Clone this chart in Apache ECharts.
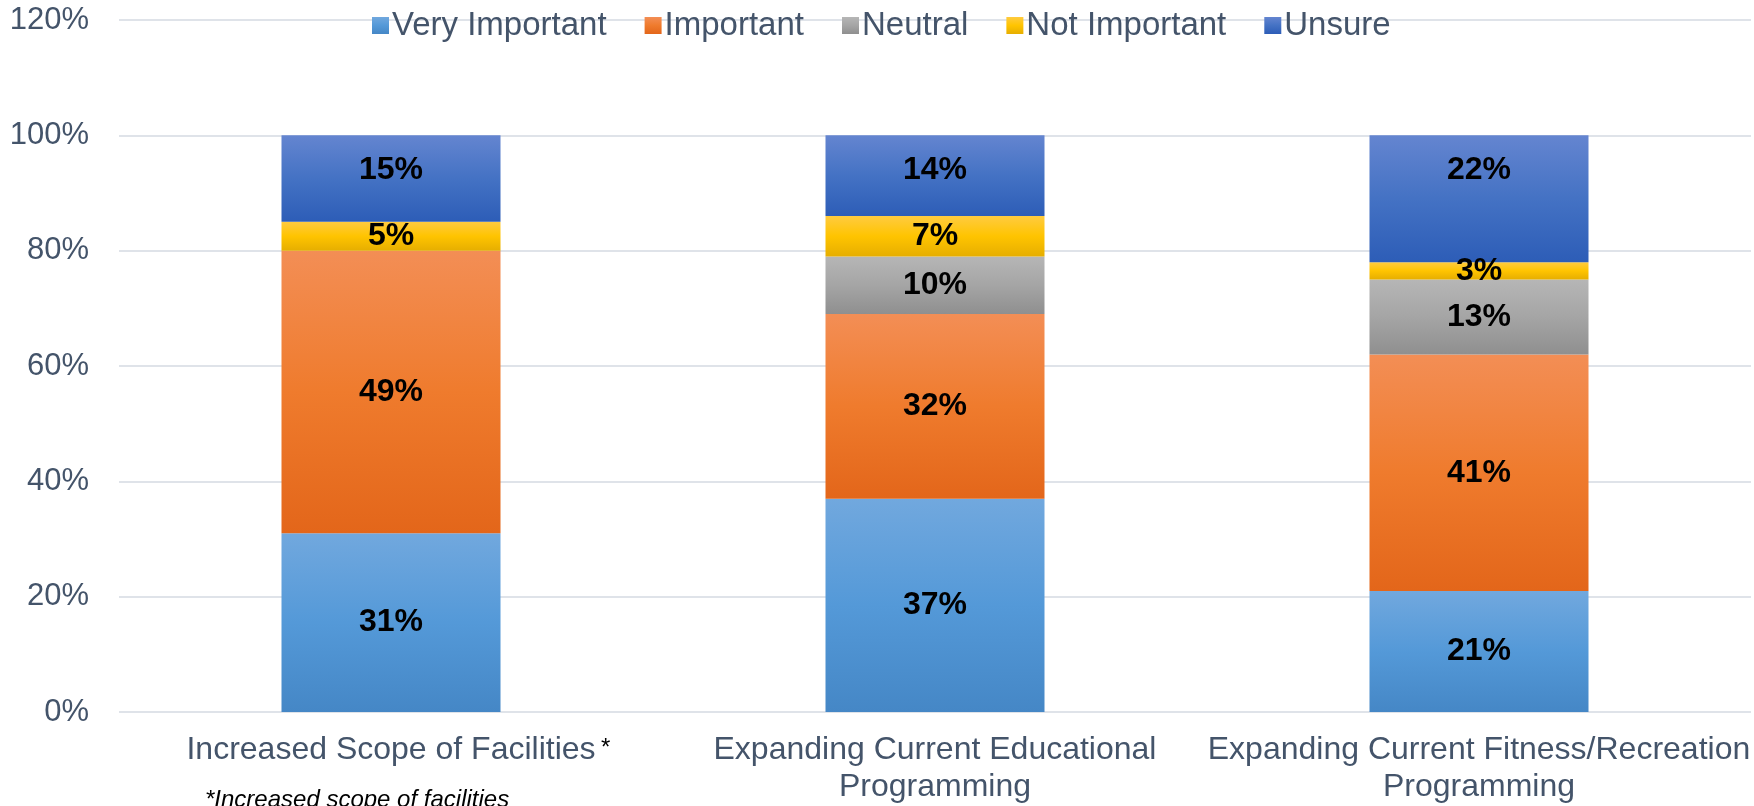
<!DOCTYPE html>
<html>
<head>
<meta charset="utf-8">
<script src="https://cdn.jsdelivr.net/npm/echarts@6/dist/echarts.min.js"></script>
<style>
  html, body { margin: 0; padding: 0; background: #ffffff; }
  #chart { width: 1754px; height: 806px; }
</style>
</head>
<body>
<div id="chart"></div>
<script>
// Survey responses: share of respondents per importance rating (percent)
const categories = [
  'Increased Scope of Facilities',
  'Expanding Current Educational\nProgramming',
  'Expanding Current Fitness/Recreation\nProgramming'
];
const veryImportant = [31, 37, 21];
const important     = [49, 32, 41];
const neutral       = [0, 10, 13];
const notImportant  = [5, 7, 3];
const unsure        = [15, 14, 22];

const yTicks = { min: 0, max: 120, interval: 20 };
const footnote = '*Increased scope of facilities';

const FONT = '"Liberation Sans", Arial, sans-serif';
const TEXT = '#44546A';

// Vertical three-stop gradient: light tint, base colour, darker shade
function grad(top, mid, bottom) {
  return new echarts.graphic.LinearGradient(0, 0, 0, 1, [
    { offset: 0, color: top },
    { offset: 0.5, color: mid },
    { offset: 1, color: bottom }
  ]);
}

const labelBase = {
  show: true,
  color: '#000000',
  fontFamily: FONT,
  fontWeight: 'bold',
  fontSize: 32,
  formatter: p => (p.value ? p.value + '%' : '')
};

function bar(name, data, fill, label) {
  return {
    name: name,
    type: 'bar',
    stack: 'total',
    barWidth: 219,
    data: data,
    itemStyle: { color: fill },
    label: Object.assign({}, labelBase, label || { position: 'inside' }),
    emphasis: { disabled: true }
  };
}

const chart = echarts.init(document.getElementById('chart'), null, { renderer: 'canvas' });

const series = [
  bar('Very Important', veryImportant, grad('#71A8DE', '#5499D8', '#4587C6')),
  bar('Important', important, grad('#F38E55', '#EF7B2D', '#E3661A')),
  bar('Neutral', neutral, grad('#B6B6B6', '#A5A5A5', '#8F8F8F')),
  bar('Not Important', notImportant, grad('#FFCB40', '#FFC400', '#E6AE00')),
  bar('Unsure', unsure, grad('#6485D0', '#4472C4', '#2D5DB7'),
      { position: 'insideTop', distance: 19 })
];

chart.setOption({
  animation: false,
  backgroundColor: '#ffffff',
  color: ['#5B9BD5', '#ED7D31', '#A5A5A5', '#FFC000', '#4472C4'],
  grid: { left: 119, right: 3, top: 20, bottom: 91, containLabel: false },
  legend: {
    left: 372,
    top: 9,
    padding: 0,
    itemWidth: 17,
    itemHeight: 17,
    itemGap: 38,
    icon: 'rect',
    textStyle: { color: TEXT, fontFamily: FONT, fontSize: 33, padding: [0, 0, 0, -2] },
    data: ['Very Important', 'Important', 'Neutral', 'Not Important', 'Unsure']
  },
  xAxis: {
    type: 'category',
    data: categories,
    axisLine: { show: false },
    axisTick: { show: false },
    axisLabel: {
      color: TEXT,
      fontFamily: FONT,
      fontSize: 32,
      lineHeight: 37,
      margin: 20,
      interval: 0
    }
  },
  yAxis: {
    type: 'value',
    min: yTicks.min,
    max: yTicks.max,
    interval: yTicks.interval,
    axisLine: { show: false },
    axisTick: { show: false },
    axisLabel: {
      color: TEXT,
      fontFamily: FONT,
      fontSize: 31,
      margin: 30,
      formatter: '{value}%'
    },
    splitLine: { lineStyle: { color: '#DFE3E9', width: 2 } }
  },
  series: series,
  graphic: [
    {
      type: 'text',
      left: 601,
      top: 736,
      style: { text: '*', fill: '#000000', font: '24px ' + FONT }
    },
    {
      type: 'text',
      left: 205,
      top: 788,
      style: { text: footnote, fill: '#000000', font: 'italic 24px ' + FONT }
    }
  ]
});
</script>
</body>
</html>
